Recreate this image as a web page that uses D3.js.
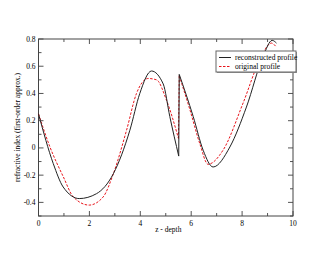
<!DOCTYPE html>
<html>
<head>
<meta charset="utf-8">
<script src="https://cdn.jsdelivr.net/npm/d3@7"></script>
<style>
body { margin: 0; background: #fff; }
text { font-family: "Liberation Serif", "DejaVu Serif", serif; }
</style>
</head>
<body>
<script>
var width = 330,
    height = 255,
    margin = { top: 39, right: 37, bottom: 39, left: 38.5 };

// reconstructed profile (black, solid)
var reconX = [0, 0.58, 0.97, 1.6, 2.28, 2.94, 3.59, 3.98, 4.44, 4.9, 5.16, 5.51, 5.53, 6.08, 6.47, 6.86, 7.52, 8.17, 8.82, 9.18, 9.35];
var reconY = [0.25, -0.115, -0.287, -0.372, -0.336, -0.19, 0.13, 0.40, 0.565, 0.47, 0.23, -0.06, 0.54, 0.23, -0.017, -0.14, 0.007, 0.30, 0.67, 0.79, 0.77];

// original profile (red, dashed)
var origX = [0, 0.45, 0.97, 1.37, 1.99, 2.54, 2.94, 3.46, 3.85, 4.31, 4.64, 5.03, 5.5, 5.53, 5.95, 6.34, 6.66, 7.25, 8.04, 8.69, 9.15, 9.35];
var origY = [0.25, 0.007, -0.21, -0.36, -0.42, -0.36, -0.19, 0.13, 0.40, 0.51, 0.50, 0.35, 0.07, 0.53, 0.28, 0.03, -0.12, -0.017, 0.33, 0.645, 0.77, 0.74];

var jumpX = 5.52; // step in both profiles
var xTicks = [0, 2, 4, 6, 8, 10];
var yTicks = [-0.4, -0.2, 0, 0.2, 0.4, 0.6, 0.8];
var legendLabels = ["reconstructed profile", "original profile"];

var svg = d3.select("body").append("svg")
    .attr("width", width)
    .attr("height", height);

var x = d3.scaleLinear().domain([0, 10]).range([margin.left, width - margin.right]);
var y = d3.scaleLinear().domain([-0.5, 0.8]).range([height - margin.bottom, margin.top]);

var fmt = function(d) { return d === 0 ? "0" : String(+d.toFixed(1)); };

// minor ticks
var xMinor = d3.range(0, 10.01, 1),
    yMinor = d3.range(-0.5, 0.801, 0.1).map(function(d) { return +d.toFixed(2); });

var ax = svg.append("g").attr("stroke", "#555").attr("stroke-width", 1);

xMinor.forEach(function(v) {
    var big = v % 2 === 0, len = big ? 5 : 3;
    ax.append("line").attr("x1", x(v)).attr("x2", x(v))
        .attr("y1", y(-0.5)).attr("y2", y(-0.5) - len);
    ax.append("line").attr("x1", x(v)).attr("x2", x(v))
        .attr("y1", y(0.8)).attr("y2", y(0.8) + len);
});
yMinor.forEach(function(v) {
    var big = Math.abs(Math.round(v * 10)) % 2 === 0, len = big ? 5 : 3;
    ax.append("line").attr("y1", y(v)).attr("y2", y(v))
        .attr("x1", x(0)).attr("x2", x(0) + len);
    ax.append("line").attr("y1", y(v)).attr("y2", y(v))
        .attr("x1", x(10)).attr("x2", x(10) - len);
});

svg.append("rect")
    .attr("x", x(0)).attr("y", y(0.8))
    .attr("width", x(10) - x(0)).attr("height", y(-0.5) - y(0.8))
    .attr("fill", "none").attr("stroke", "#444").attr("stroke-width", 1);

svg.append("g").selectAll("text").data(xTicks).enter().append("text")
    .attr("x", function(d) { return x(d); })
    .attr("y", y(-0.5) + 10)
    .attr("text-anchor", "middle")
    .attr("font-size", 7.5)
    .text(function(d) { return d; });

svg.append("g").selectAll("text").data(yTicks).enter().append("text")
    .attr("x", x(0) - 3)
    .attr("y", function(d) { return y(d) + 2.5; })
    .attr("text-anchor", "end")
    .attr("font-size", 7.5)
    .text(fmt);

svg.append("text")
    .attr("x", x(5.1)).attr("y", 232)
    .attr("text-anchor", "middle")
    .attr("font-size", 7.5)
    .text("z - depth");

svg.append("text")
    .attr("transform", "translate(20," + y(0.15) + ") rotate(-90)")
    .attr("text-anchor", "middle")
    .attr("font-size", 7.5)
    .text("refractive index (first-order approx.)");

var line = d3.line()
    .x(function(d) { return x(d[0]); })
    .y(function(d) { return y(d[1]); })
    .curve(d3.curveMonotoneX);

// each profile is drawn as two pieces either side of the step,
// joined by a straight vertical segment
function pieces(xs, ys) {
    var pts = d3.zip(xs, ys),
        a = pts.filter(function(p) { return p[0] < jumpX; }),
        b = pts.filter(function(p) { return p[0] > jumpX; });
    return [a, [a[a.length - 1], b[0]], b];
}

function draw(xs, ys, color, dash) {
    var g = svg.append("g");
    pieces(xs, ys).forEach(function(seg, i) {
        g.append("path")
            .datum(seg)
            .attr("d", i === 1 ? line.curve(d3.curveLinear)(seg) : line.curve(d3.curveMonotoneX)(seg))
            .attr("fill", "none")
            .attr("stroke", color)
            .attr("stroke-width", 1)
            .attr("stroke-dasharray", dash);
    });
}

draw(origX, origY, "#e8141b", "2.5,1.5");
draw(reconX, reconY, "#222", null);

// legend
var lg = svg.append("g").attr("transform", "translate(216,51)");
lg.append("rect").attr("x", 1).attr("y", 1).attr("width", 80).attr("height", 21)
    .attr("fill", "#999");
lg.append("rect").attr("width", 80).attr("height", 21)
    .attr("fill", "#fff").attr("stroke", "#666").attr("stroke-width", 1);
legendLabels.forEach(function(t, i) {
    var ly = 6.5 + i * 9;
    lg.append("line").attr("x1", 3).attr("x2", 15).attr("y1", ly).attr("y2", ly)
        .attr("stroke", i === 0 ? "#222" : "#e8141b")
        .attr("stroke-dasharray", i === 0 ? null : "2.5,1.5");
    lg.append("text").attr("x", 19).attr("y", ly + 2.5)
        .attr("font-size", 7.5).text(t);
});
</script>
</body>
</html>
